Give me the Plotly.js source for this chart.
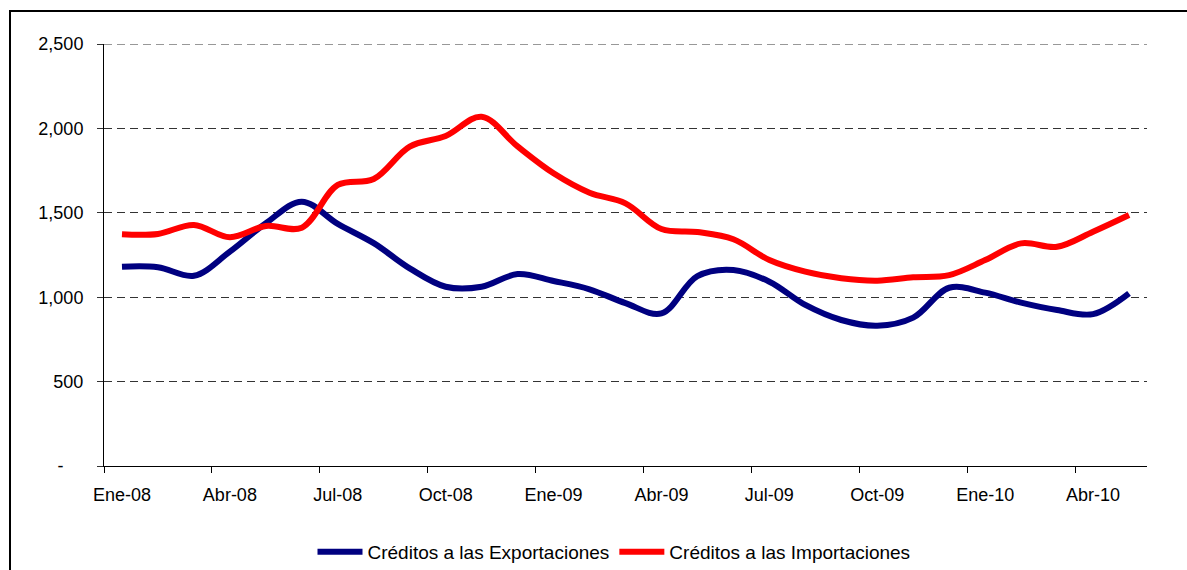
<!DOCTYPE html>
<html>
<head>
<meta charset="utf-8">
<script src="https://cdn.plot.ly/plotly-3.0.1.min.js"></script>
<style>
  html, body { margin: 0; padding: 0; background: #ffffff; }
  #chart { width: 1187px; height: 570px; }
</style>
</head>
<body>
<div id="chart"></div>
<script>
// ---- Data ----
const months = [
  'Ene-08','Feb-08','Mar-08','Abr-08','May-08','Jun-08','Jul-08','Ago-08','Sep-08','Oct-08','Nov-08','Dic-08',
  'Ene-09','Feb-09','Mar-09','Abr-09','May-09','Jun-09','Jul-09','Ago-09','Sep-09','Oct-09','Nov-09','Dic-09',
  'Ene-10','Feb-10','Mar-10','Abr-10','May-10'
];
const exportaciones = [
  1181, 1178, 1127, 1270, 1438, 1566, 1434, 1320, 1171, 1062, 1062, 1137,
  1096, 1047, 965, 904, 1125, 1161, 1092, 954, 865, 831, 879, 1056,
  1027, 968, 924, 900, 1023
];
const importaciones = [
  1373, 1375, 1428, 1355, 1422, 1412, 1665, 1700, 1892, 1955, 2069, 1893,
  1734, 1619, 1556, 1404, 1386, 1343, 1220, 1151, 1112, 1098, 1118, 1131,
  1220, 1319, 1299, 1388, 1487
];
const tickLabels = ['Ene-08','Abr-08','Jul-08','Oct-08','Ene-09','Abr-09','Jul-09','Oct-09','Ene-10','Abr-10'];
const yTickValues = [0, 500, 1000, 1500, 2000, 2500];
const yTickLabels = ['-\u00a0\u00a0\u00a0\u00a0', '500', '1,000', '1,500', '2,000', '2,500'];
const seriesNames = ['Créditos a las Exportaciones', 'Créditos a las Importaciones'];

// ---- Build ----
const xIdx = months.map((m, i) => i);
const tickPositions = tickLabels.map(l => months.indexOf(l));
const yMax = yTickValues[yTickValues.length - 1];

const W = 1187, H = 570;
const M = { l: 104, r: 40, t: 44, b: 104 };
const pw = W - M.l - M.r, ph = H - M.t - M.b;
const px2x = p => (p - M.l) / pw;
const py2y = p => (H - M.b - p) / ph;

const FONT = 'Liberation Sans, Arial, Helvetica, sans-serif';
const GRID_DASH = '8px,5px';
const GRID_COLOR = '#333333';

const traces = [
  {
    x: xIdx, y: exportaciones, name: seriesNames[0], type: 'scatter', mode: 'lines',
    line: { color: '#000080', width: 6, shape: 'spline', smoothing: 1 },
    hoverinfo: 'skip'
  },
  {
    x: xIdx, y: importaciones, name: seriesNames[1], type: 'scatter', mode: 'lines',
    line: { color: '#FF0000', width: 6, shape: 'spline', smoothing: 1 },
    hoverinfo: 'skip'
  }
];

const layout = {
  width: W, height: H,
  margin: { l: M.l, r: M.r, t: M.t, b: M.b, autoexpand: false },
  paper_bgcolor: '#ffffff', plot_bgcolor: '#ffffff',
  font: { family: FONT, size: 18, color: '#000000' },
  showlegend: true,
  legend: {
    orientation: 'h', x: px2x(614), xanchor: 'center', y: py2y(552), yanchor: 'middle',
    font: { family: FONT, size: 19, color: '#000000' },
    bgcolor: 'rgba(0,0,0,0)', itemwidth: 45, tracegroupgap: 0
  },
  xaxis: {
    type: 'linear', range: [-0.5, xIdx.length - 0.5], fixedrange: true,
    tickmode: 'array', tickvals: tickPositions, ticktext: tickLabels,
    ticks: '', showgrid: false, zeroline: false,
    showline: true, linecolor: '#000000', linewidth: 1,
    tickfont: { family: FONT, size: 18, color: '#000000' },
    ticklabelstandoff: 12,
    minor: { tickmode: 'linear', tick0: -0.5, dtick: 3, ticks: 'outside', ticklen: 6, tickcolor: '#000000', tickwidth: 1, showgrid: false }
  },
  yaxis: {
    range: [0, yMax], fixedrange: true,
    tickmode: 'array', tickvals: yTickValues, ticktext: yTickLabels,
    ticks: 'outside', ticklen: 6, tickcolor: GRID_COLOR, tickwidth: 1,
    showgrid: true, gridcolor: GRID_COLOR, gridwidth: 1, griddash: GRID_DASH,
    zeroline: false, showline: true, linecolor: '#000000', linewidth: 1,
    tickfont: { family: FONT, size: 18, color: '#000000' },
    ticklabelstandoff: 10
  },
  shapes: [
    {
      type: 'line', xref: 'paper', yref: 'y', x0: 0, x1: 1, y0: yMax, y1: yMax,
      line: { color: GRID_COLOR, width: 1, dash: GRID_DASH }, layer: 'below'
    },
    {
      type: 'rect', xref: 'paper', yref: 'paper',
      x0: px2x(10), x1: px2x(1195), y0: py2y(580), y1: py2y(11),
      line: { color: '#000000', width: 2 }, fillcolor: 'rgba(0,0,0,0)', layer: 'above'
    }
  ]
};

Plotly.newPlot('chart', traces, layout, { displayModeBar: false, staticPlot: true });
</script>
</body>
</html>
